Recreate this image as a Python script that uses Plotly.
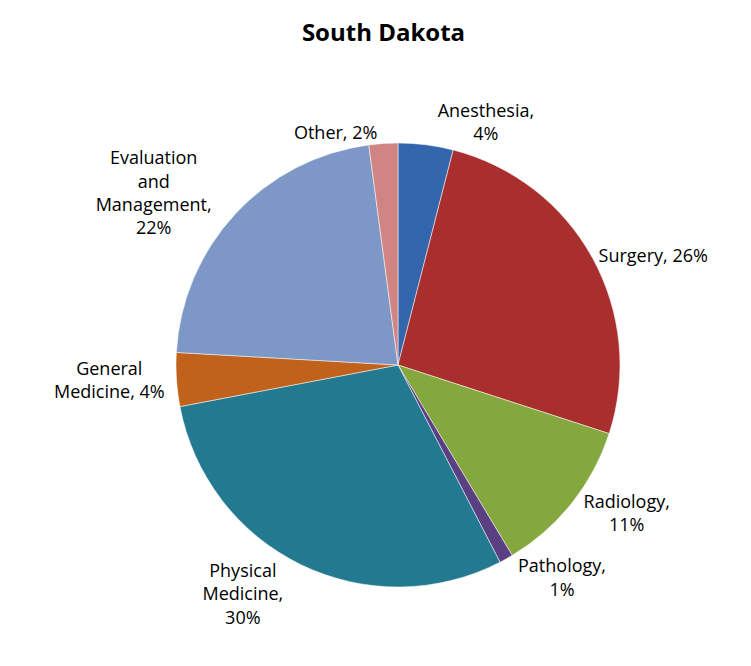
import plotly.graph_objects as go

categories = ["Anesthesia", "Surgery", "Radiology", "Pathology", "Physical Medicine",
              "General Medicine", "Evaluation and Management", "Other"]
values = [4.0, 26.0, 11.4, 1.0, 29.6, 3.9, 22.0, 2.1]
label_prefix = ["Anesthesia,<br>", "Surgery, ", "Radiology,<br>", "Pathology,<br>",
                "Physical<br>Medicine,<br>", "General<br>Medicine, ",
                "Evaluation<br>and<br>Management,<br>", "Other, "]
colors = ["#3466ad", "#a92f2e", "#84a83d", "#5a3f82", "#237a90", "#c0621b", "#7d98c6", "#d08583"]

W, H = 751, 666
cx, cy, r = 390, 357, 222

fig = go.Figure(go.Pie(
    labels=categories,
    values=values,
    customdata=label_prefix,
    texttemplate="%{customdata}%{percent:.0%}",
    textposition="outside",
    sort=False,
    direction="clockwise",
    rotation=0,
    marker=dict(colors=colors, line=dict(color="rgba(255,255,255,0.5)", width=1)),
    outsidetextfont=dict(family="Open Sans, Liberation Sans, sans-serif", size=18, color="#000000"),
    showlegend=False,
    hoverinfo="label+percent",
    domain=dict(x=[(cx - r) / W, (cx + r) / W], y=[1 - (cy + r) / H, 1 - (cy - r) / H]),
    automargin=False,
))

fig.update_layout(
    width=W, height=H,
    margin=dict(l=0, r=0, t=0, b=0),
    paper_bgcolor="white",
    title=dict(text="<b>South Dakota</b>", x=0.5, xanchor="center", y=1 - 25 / H, yanchor="middle",
               font=dict(family="Open Sans, Liberation Sans, sans-serif", size=24, color="#000000")),
)

fig.write_html("out.html")
